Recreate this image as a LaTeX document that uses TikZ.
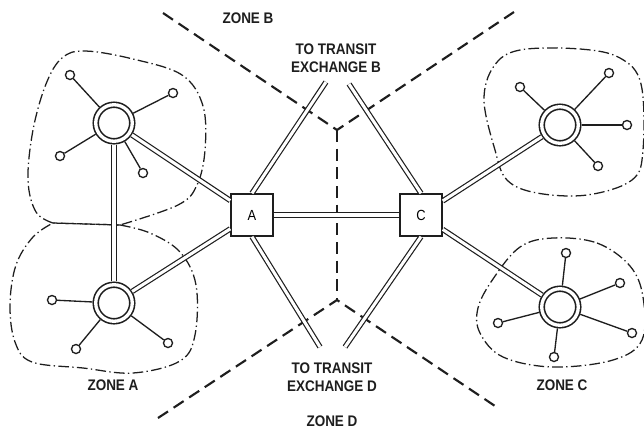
\documentclass[tikz,border=0pt]{standalone}
\usepackage{fontspec}
\setmainfont{Liberation Sans}[FakeStretch=0.88]

\begin{document}
\begin{tikzpicture}[x=0.75pt,y=-0.75pt,font=\fontsize{11.5}{13.5}\selectfont\bfseries]
  \definecolor{ink}{HTML}{1E1E1E}
  \path[use as bounding box] (0,0) rectangle (644,430);

  \tikzset{hub/.style={circle,draw=ink,line width=1.2pt,double=white,double distance=2.5pt,
             minimum size=27.4pt,inner sep=0pt,outer sep=2.45pt},
           sub/.style={circle,draw=ink,line width=1pt,fill=white,minimum size=6.8pt,inner sep=0pt},
           office/.style={draw=ink,line width=1.1pt,fill=white,minimum size=31.5pt,inner sep=0pt,
             font=\fontsize{11}{13}\selectfont},
           trunk/.style={draw=ink,line width=.9pt,double=white,double distance=2.3pt},
           drop/.style={ink,line width=1pt},
           border/.style={ink,line width=1.6pt,dash pattern=on 9pt off 5pt},
           zone/.style={ink,line width=.95pt,dash pattern=on 8pt off 2.5pt on 1pt off 2.5pt},
           caption/.style={text=ink,align=center,inner sep=1pt}}

  % Zone outlines, dash-dot, the two halves of zone A share a short edge.
  \draw[zone] plot[smooth,tension=.6] coordinates {(53,223) (36,212) (28,180) (33,130) (46,84)
    (62,58) (85,51) (133,59) (182,75) (203,106) (205,150) (197,185) (178,205) (120,225)} -- cycle;
  \draw[zone] plot[smooth,tension=.6] coordinates {(120,225) (150,233) (180,252) (196,285)
    (195,335) (180,361) (133,373) (83,368) (32,362) (15,342) (10,305) (16,265) (33,237) (53,223)} -- cycle;
  \draw[zone] plot[smooth cycle,tension=.6] coordinates {(520,50) (580,49) (620,58) (641,84)
    (643,150) (632,180) (587,195) (537,193) (507,180) (495,150) (484,100) (494,66)};
  \draw[zone] plot[smooth cycle,tension=.6] coordinates {(553,238) (597,243) (630,266) (643,297)
    (642,340) (613,360) (553,367) (503,357) (480,333) (478,308) (493,279) (520,247)};

  % Zone borders meet in two forks on the centre line.
  \coordinate (forkB) at (337,130);
  \coordinate (forkD) at (337,300);
  \draw[border] (163,13) -- (forkB) -- (514,12);
  \draw[border] (forkB) -- (forkD);
  \draw[border] (158,418) -- (forkD) -- (498,408);

  \node[office] (A) at (252,215) {A};
  \node[office] (C) at (421,215) {C};

  \node[hub] (hubA1) at (114,123) {};
  \node[hub] (hubA2) at (114,303) {};
  \node[hub] (hubC1) at (560,125) {};
  \node[hub] (hubC2) at (560,307) {};

  \node[sub] (a1) at (70,75) {};   \draw[drop] (hubA1) -- (a1);
  \node[sub] (a2) at (173,93) {};  \draw[drop] (hubA1) -- (a2);
  \node[sub] (a3) at (60,156) {};  \draw[drop] (hubA1) -- (a3);
  \node[sub] (a4) at (143,173) {}; \draw[drop] (hubA1) -- (a4);
  \node[sub] (a5) at (52,300) {};  \draw[drop] (hubA2) -- (a5);
  \node[sub] (a6) at (76,349) {};  \draw[drop] (hubA2) -- (a6);
  \node[sub] (a7) at (168,343) {}; \draw[drop] (hubA2) -- (a7);
  \node[sub] (c1) at (520,87) {};  \draw[drop] (hubC1) -- (c1);
  \node[sub] (c2) at (609,73) {};  \draw[drop] (hubC1) -- (c2);
  \node[sub] (c3) at (627,125) {}; \draw[drop] (hubC1) -- (c3);
  \node[sub] (c4) at (598,166) {}; \draw[drop] (hubC1) -- (c4);
  \node[sub] (c5) at (566,253) {}; \draw[drop] (hubC2) -- (c5);
  \node[sub] (c6) at (620,283) {}; \draw[drop] (hubC2) -- (c6);
  \node[sub] (c7) at (632,333) {}; \draw[drop] (hubC2) -- (c7);
  \node[sub] (c8) at (554,357) {}; \draw[drop] (hubC2) -- (c8);
  \node[sub] (c9) at (498,323) {}; \draw[drop] (hubC2) -- (c9);

  % Junction trunks, drawn as double lines.
  \coordinate (toB1) at (326,82);
  \coordinate (toB2) at (349,84);
  \coordinate (toD1) at (320,347);
  \coordinate (toD2) at (345,347);
  \draw[trunk] (hubA1) -- (hubA2);
  \draw[trunk] (hubA1) -- (A);
  \draw[trunk] (hubA2) -- (A);
  \draw[trunk] (A) -- (C);
  \draw[trunk] (C) -- (hubC1);
  \draw[trunk] (C) -- (hubC2);
  \draw[trunk] (A.north) -- (toB1);
  \draw[trunk] (C.north) -- (toB2);
  \draw[trunk] (A.south) -- (toD1);
  \draw[trunk] (C.south) -- (toD2);

  \node[caption] at (336,58) {TO TRANSIT\\EXCHANGE B};
  \node[caption] at (332,377) {TO TRANSIT\\EXCHANGE D};
  \node[caption] at (248,18) {ZONE B};
  \node[caption] at (113,385) {ZONE A};
  \node[caption] at (562,385) {ZONE C};
  \node[caption] at (332,421) {ZONE D};
\end{tikzpicture}
\end{document}
